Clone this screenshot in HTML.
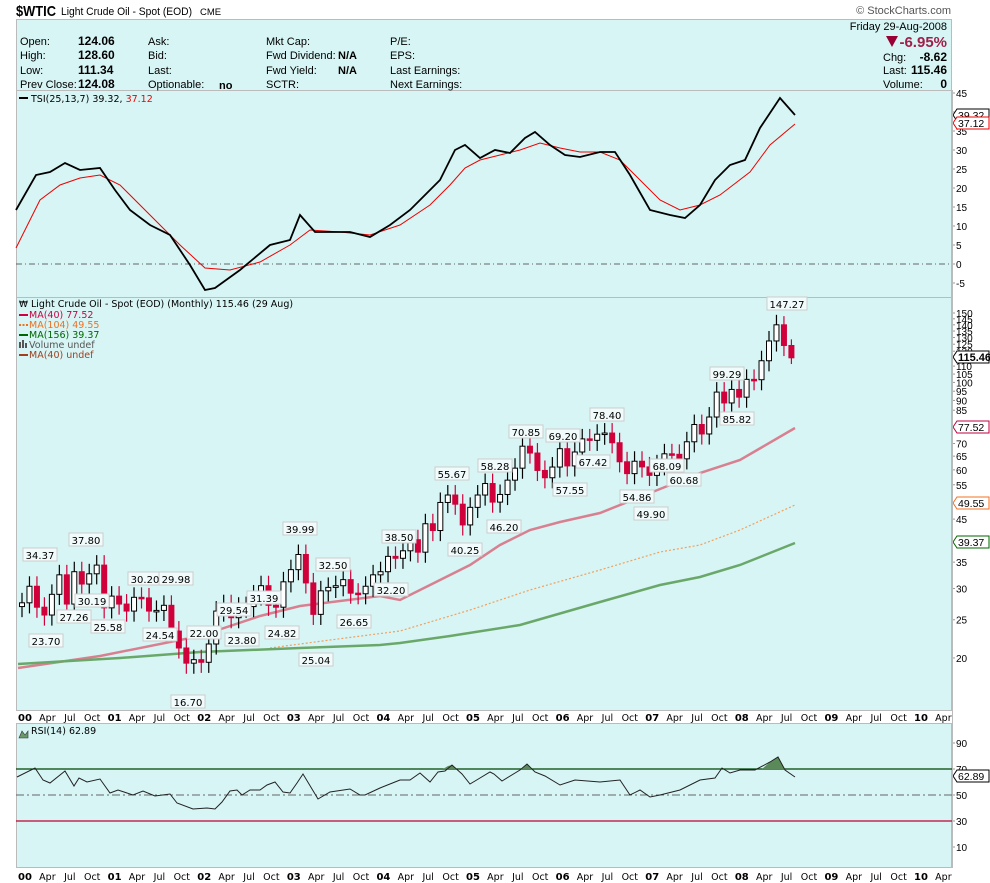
<!DOCTYPE html>
<html><head><meta charset="utf-8"><style>
body{margin:0;background:#fff;width:990px;height:883px;overflow:hidden;font-family:"Liberation Sans",sans-serif}
svg{position:absolute;left:0;top:0}
</style></head><body>
<svg id="s" width="990" height="883" xmlns="http://www.w3.org/2000/svg" font-family="Liberation Sans, sans-serif">
<text x="16" y="16" font-size="15" font-weight="bold" textLength="40" lengthAdjust="spacingAndGlyphs">$WTIC</text>
<text x="61" y="15" font-size="11" textLength="131" lengthAdjust="spacingAndGlyphs">Light Crude Oil - Spot (EOD)</text>
<text x="200" y="15" font-size="9.5">CME</text>
<text x="951" y="14" font-size="11" fill="#555" text-anchor="end">© StockCharts.com</text>
<rect x="16.5" y="19.5" width="935" height="848" fill="#d7f5f5" stroke="#bbb"/>
<line x1="16" y1="90.5" x2="952" y2="90.5" stroke="#bbb"/>
<line x1="16" y1="297.5" x2="952" y2="297.5" stroke="#bbb"/>
<rect x="16" y="711" width="974" height="12" fill="#fff"/>
<line x1="16" y1="710.5" x2="952" y2="710.5" stroke="#bbb"/>
<line x1="16" y1="723.5" x2="952" y2="723.5" stroke="#bbb"/>
<g font-size="11">
<text x="20" y="45">Open:</text><text x="78" y="45" font-weight="bold" font-size="12">124.06</text>
<text x="20" y="59">High:</text><text x="78" y="59" font-weight="bold" font-size="12">128.60</text>
<text x="20" y="74">Low:</text><text x="78" y="74" font-weight="bold" font-size="12">111.34</text>
<text x="20" y="88">Prev Close:</text><text x="78" y="88" font-weight="bold" font-size="12">124.08</text>
<text x="148" y="45">Ask:</text><text x="148" y="59">Bid:</text><text x="148" y="74">Last:</text><text x="148" y="88">Optionable:</text><text x="219" y="89" font-weight="bold">no</text>
<text x="266" y="45">Mkt Cap:</text><text x="266" y="59">Fwd Dividend:</text><text x="338" y="59" font-weight="bold">N/A</text>
<text x="266" y="74">Fwd Yield:</text><text x="338" y="74" font-weight="bold">N/A</text><text x="266" y="88">SCTR:</text>
<text x="390" y="45">P/E:</text><text x="390" y="59">EPS:</text><text x="390" y="74">Last Earnings:</text><text x="390" y="88">Next Earnings:</text>
<text x="947" y="30" text-anchor="end">Friday  29-Aug-2008</text>
<path d="M886 36 L898 36 L892 47Z" fill="#990033"/>
<text x="947" y="47" text-anchor="end" font-size="15" font-weight="bold" fill="#a0204a">-6.95%</text>
<text x="883" y="61">Chg:</text><text x="947" y="61" text-anchor="end" font-weight="bold" font-size="12">-8.62</text>
<text x="883" y="74">Last:</text><text x="947" y="74" text-anchor="end" font-weight="bold" font-size="12">115.46</text>
<text x="883" y="88">Volume:</text><text x="947" y="88" text-anchor="end" font-weight="bold" font-size="12">0</text>
</g>
<g font-family="DejaVu Sans, sans-serif" font-size="9.5">
<line x1="19" y1="98" x2="28" y2="98" stroke="#000" stroke-width="2"/>
<text x="31" y="102">TSI(25,13,7) 39.32, <tspan fill="#e00">37.12</tspan></text>
<text x="31" y="307">Light Crude Oil - Spot (EOD) (Monthly) 115.46 (29 Aug)</text>
<text x="19" y="307" font-size="9">₩</text>
<line x1="19" y1="315" x2="28" y2="315" stroke="#d00040" stroke-width="2"/><text x="29" y="318" fill="#d00040">MA(40) 77.52</text>
<line x1="19" y1="325" x2="28" y2="325" stroke="#f07020" stroke-width="2" stroke-dasharray="2,1.5"/><text x="29" y="328" fill="#f07020">MA(104) 49.55</text>
<line x1="19" y1="335" x2="28" y2="335" stroke="#006600" stroke-width="2"/><text x="29" y="338" fill="#006600">MA(156) 39.37</text>
<rect x="19" y="342" width="2" height="6" fill="#555"/><rect x="22" y="340" width="2" height="8" fill="#555"/><rect x="25" y="343" width="2" height="5" fill="#555"/><text x="29" y="348" fill="#555">Volume undef</text>
<line x1="19" y1="355" x2="28" y2="355" stroke="#a04020" stroke-width="2"/><text x="29" y="358" fill="#a04020">MA(40) undef</text>
<path d="M19 738 L22 731 L25 735 L28 731 L28 738Z" fill="#6a9a6a" stroke="#333" stroke-width="0.6"/>
<text x="31" y="734">RSI(14) 62.89</text>
</g>
<g id="g"></g>
</svg>
<script>
var NS="http://www.w3.org/2000/svg",G=document.getElementById('g');
function el(t,a,p){var e=document.createElementNS(NS,t);for(var k in a)e.setAttribute(k,a[k]);(p||G).appendChild(e);return e}
function txt(x,y,s,a){a=a||{};a.x=x;a.y=y;var e=el('text',a);e.textContent=s;return e}
function pl(pts,a){a.points=pts.map(function(p){return p.join(',')}).join(' ');a.fill=a.fill||'none';return el('polyline',a)}
var C=[27.6,30.4,26.9,25.7,29.0,32.5,27.4,33.1,30.8,32.7,34.4,26.8,
28.7,27.4,26.3,28.5,28.4,26.3,26.4,27.2,23.4,21.2,19.4,19.8,
19.5,21.7,26.3,27.3,25.3,26.9,27.0,28.9,30.5,27.2,26.9,31.2,
33.5,36.6,31.0,25.8,29.6,30.2,30.5,31.6,29.2,29.1,30.4,32.5,
33.1,36.2,35.8,37.4,39.9,37.1,43.8,42.1,49.6,51.8,49.1,43.5,
48.2,51.8,55.4,49.7,51.97,56.5,60.6,68.9,66.2,59.8,57.3,61.0,
67.9,61.4,66.6,71.9,71.3,73.9,74.4,70.3,62.9,58.7,63.1,61.05,
58.1,61.8,65.9,65.7,64.0,70.7,78.2,74.0,81.7,94.5,88.7,95.98,
91.75,101.8,101.6,113.5,127.4,140.0,124.08,115.46];
function X(m){return 22+7.47*m}
function Y(v){return 313+171.2*Math.log(150/v)}
pl([[18,668],[100,656],[200,636],[260,616],[300,606],[380,596],[400,600],[430,585],[470,565],[500,545],[530,530],[560,522],[600,513],[640,497],[700,473],[740,460],[795,428]],{stroke:'#d98090','stroke-width':2.5});
pl([[270,648],[330,640],[400,631],[470,610],[530,590],[600,570],[660,552],[700,545],[740,530],[795,505]],{stroke:'#f0a060','stroke-width':1.2,'stroke-dasharray':'2,2'});
pl([[18,664],[120,658],[200,652],[300,648],[380,645],[400,643],[450,636],[520,625],[600,602],[660,585],[700,577],[740,565],[795,543]],{stroke:'#6aa86a','stroke-width':2.5});
var prev=27.0;
for(var i=0;i<C.length;i++){var o=(i==C.length-1)?124.06:prev,c=C[i];var hi=Math.max(o,c)*1.06,lo=Math.min(o,c)*0.94;
 if(i==C.length-2){hi=147.27;}if(i==C.length-1){hi=128.6;lo=111.34}
 var x=X(i),up=c>=o,col=up?'#000':'#d0003a';
 el('line',{x1:x,x2:x,y1:Y(hi),y2:Y(lo),stroke:col,'stroke-width':1.2});
 var t=Y(Math.max(o,c)),b=Y(Math.min(o,c));if(b-t<1.5)b=t+1.5;
 el('rect',{x:x-2.5,y:t,width:5,height:b-t,fill:up?'#fff':'#d0003a',stroke:col,'stroke-width':1});
 prev=c;}
var L=[['34.37',40,555],['37.80',86,540],['23.70',46,641],['27.26',74,617],['30.19',92,601],['25.58',108,627],['30.20',145,579],['29.98',176,579],['24.54',160,635],['22.00',204,633],['16.70',188,702],['29.54',234,610],['23.80',242,640],['31.39',264,598],['24.82',282,633],['39.99',300,529],['32.50',333,565],['25.04',316,660],['26.65',354,622],['32.20',391,590],['38.50',399,537],['40.25',465,550],['55.67',452,474],['58.28',495,466],['46.20',504,527],['70.85',526,432],['69.20',563,436],['57.55',570,490],['67.42',593,462],['78.40',607,415],['54.86',637,497],['49.90',651,514],['68.09',667,466],['60.68',684,480],['99.29',727,374],['85.82',737,419],['147.27',787,304]];
L.forEach(function(l){var w=l[0].length*6+4;el('rect',{x:l[1]-w/2,y:l[2]-7,width:w,height:13,fill:'#f2fbfb',stroke:'#ccc'});txt(l[1],l[2]+4,l[0],{'font-size':10,'text-anchor':'middle','font-family':'DejaVu Sans, sans-serif'})});
el('line',{x1:16,x2:952,y1:264,y2:264,stroke:'#666','stroke-dasharray':'6,3,1,3'});
pl([[16,248],[40,200],[60,185],[80,178],[100,175],[120,185],[150,215],[180,245],[205,268],[230,270],[260,262],[290,245],[310,230],[340,232],[370,235],[400,225],[430,205],[450,185],[465,168],[480,160],[500,155],[520,150],[540,143],[560,148],[580,152],[600,152],[620,160],[640,180],[660,200],[680,210],[700,205],[720,195],[750,172],[770,145],[795,124]],{stroke:'#e00','stroke-width':1});
pl([[16,210],[36,175],[50,172],[65,163],[80,170],[100,168],[115,190],[130,210],[150,225],[170,235],[190,265],[205,290],[215,288],[240,270],[270,245],[290,240],[300,215],[315,232],[330,232],[350,232],[370,237],[390,225],[410,210],[425,195],[440,180],[455,150],[465,145],[480,158],[495,150],[510,153],[525,138],[535,132],[550,145],[565,155],[580,157],[600,152],[615,152],[630,175],[650,210],[670,215],[685,218],[700,205],[715,180],[730,165],[745,160],[760,128],[780,98],[795,115]],{stroke:'#000','stroke-width':1.8});
el('line',{x1:16,x2:952,y1:769,y2:769,stroke:'#004400','stroke-width':1.2});
el('line',{x1:16,x2:952,y1:795,y2:795,stroke:'#666','stroke-dasharray':'8,3,2,3'});
el('line',{x1:16,x2:952,y1:821,y2:821,stroke:'#c00030','stroke-width':1.2});
el('path',{d:'M443 769 L448 766 L452 765 L456 769Z',fill:'#5a8a5a'});
el('path',{d:'M522 769 L527 764 L531 769Z',fill:'#5a8a5a'});
el('path',{d:'M762 769 L770 762 L778 757 L785 769Z',fill:'#5a8a5a'});
pl([[17,777],[35,768],[43,780],[50,783],[65,771],[74,786],[79,778],[87,782],[100,779],[110,793],[118,790],[133,795],[143,791],[155,796],[170,794],[177,803],[193,809],[207,808],[215,809],[222,802],[230,791],[237,790],[242,795],[250,790],[260,790],[267,785],[275,782],[283,792],[290,793],[297,783],[303,774],[318,799],[330,792],[350,789],[360,795],[365,795],[380,788],[395,782],[400,780],[410,780],[420,773],[430,782],[438,772],[445,771],[452,765],[462,774],[470,784],[480,778],[490,772],[494,774],[502,781],[520,770],[527,764],[535,772],[545,776],[560,785],[575,780],[600,782],[620,780],[630,795],[640,790],[650,797],[660,795],[680,790],[700,780],[715,778],[722,768],[730,773],[740,770],[755,770],[770,762],[778,757],[785,770],[795,777]],{stroke:'#222','stroke-width':1});
var ax=el('g',{'font-size':10,'font-family':'Liberation Sans, sans-serif'});
el('line',{x1:952.5,x2:952.5,y1:90,y2:868,stroke:'#bbb'});
for(var v=45;v>=-15;v-=5){var y=264-3.8*v;if(y>296)break;el('line',{x1:952,x2:955,y1:y,y2:y,stroke:'#999'},ax);var tt=el('text',{x:956,y:y+4},ax);tt.textContent=v}
[150,145,140,135,130,125,120,110,105,100,95,90,85,70,65,60,55,45,35,30,25,20].forEach(function(v){var y=Y(v);el('line',{x1:952,x2:955,y1:y,y2:y,stroke:'#999'},ax);var t=el('text',{x:956,y:y+4},ax);t.textContent=v});
[90,70,50,30,10].forEach(function(v){var y=860-1.3*v;el('line',{x1:952,x2:955,y1:y,y2:y,stroke:'#999'},ax);var t=el('text',{x:956,y:y+4},ax);t.textContent=v});
function tag(y,s,c,bold){el('path',{d:'M953 '+y+' L957 '+(y-6)+' L989 '+(y-6)+' L989 '+(y+6)+' L957 '+(y+6)+'Z',fill:'#fff',stroke:c},ax);var a={x:958,y:y+4,'font-size':10.5};if(bold){a['font-weight']='bold';a['font-size']=11}var t=el('text',a,ax);t.textContent=s;return t}
tag(115,'39.32','#000');tag(123,'37.12','#e00');
tag(357,'115.46','#000',true);
tag(427,'77.52','#c00040');tag(503,'49.55','#f07020');tag(542,'39.37','#006600');tag(776,'62.89','#000');
var mn=['Apr','Jul','Oct'];
[721,880].forEach(function(y){for(var yr=0;yr<=10;yr++){var b=22+89.6*yr;txt(b+3,y,(yr<10?'0':'')+yr,{'font-size':10,'font-weight':'bold','text-anchor':'middle','font-family':'DejaVu Sans, sans-serif'});
 for(var k=0;k<3;k++){var xx=b+22.4*(k+1)+3;if(xx<948)txt(xx,y,mn[k],{'font-size':9.5,'text-anchor':'middle','font-family':'DejaVu Sans, sans-serif'});}}});
</script>
</body></html>
